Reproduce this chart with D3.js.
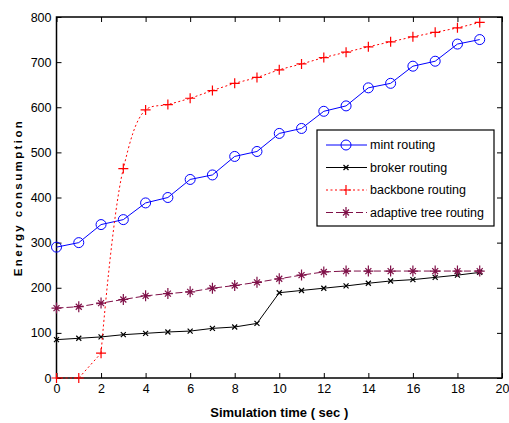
<!DOCTYPE html>
<html>
<head>
<meta charset="utf-8">
<script src="https://cdn.jsdelivr.net/npm/d3@7/dist/d3.min.js"></script>
<style>
  html, body { margin: 0; padding: 0; background: #fff; }
  svg text { font-family: "Liberation Sans", Arial, sans-serif; }
</style>
</head>
<body>
<div id="chart"></div>
<script>
// simulation time, seconds
const times = d3.range(0, 20);

const mintRouting = [290, 300, 340, 351, 388, 400, 440, 450, 491, 502, 542, 553, 591, 603, 643, 653, 691, 702, 740, 750];
const brokerRouting = [85, 88, 91, 96, 99, 102, 104, 110, 113, 121, 189, 194, 199, 204, 210, 215, 218, 223, 228, 234];
const backboneRouting = [0, 0, 55, 464, 594, 606, 620, 637, 653, 666, 683, 696, 710, 722, 734, 745, 756, 766, 776, 788];
const adaptiveTreeRouting = [155, 158, 166, 174, 182, 187, 191, 199, 205, 212, 220, 228, 235, 237, 237, 237, 237, 237, 237, 237];

const xTicks = d3.range(0, 21, 2);
const yTicks = d3.range(0, 801, 100);

// smoothFrom: index from which the line is drawn as a spline (null = straight segments)
const series = [
  { name: 'mint routing', values: mintRouting, color: '#0000ff', dash: null, marker: 'circle', smoothFrom: null },
  { name: 'broker routing', values: brokerRouting, color: '#000000', dash: null, marker: 'x', smoothFrom: null },
  { name: 'backbone routing', values: backboneRouting, color: '#ff0000', dash: '2,2.5', marker: 'plus', smoothFrom: 2 },
  { name: 'adaptive tree routing', values: adaptiveTreeRouting, color: '#7f1048', dash: '7,3', marker: 'star', smoothFrom: null }
];

const W = 509, H = 423;
const margin = { top: 17, right: 7, bottom: 45, left: 56.5 };
const width = W - margin.left - margin.right;
const height = H - margin.top - margin.bottom;

const svg = d3.select('#chart').append('svg')
  .attr('width', W)
  .attr('height', H);

const g = svg.append('g')
  .attr('transform', `translate(${margin.left},${margin.top})`);

const x = d3.scaleLinear().domain([0, 20]).range([0, width]);
const y = d3.scaleLinear().domain([0, 800]).range([height, 0]);

// axes with inward ticks on all four sides
const styleAxis = sel => {
  sel.select('.domain').remove();
  sel.selectAll('line').attr('stroke', '#000');
  sel.selectAll('text').attr('font-size', 12.5).attr('fill', '#000');
};

g.append('g').attr('transform', `translate(0,${height})`)
  .call(d3.axisBottom(x).tickValues(xTicks).tickSizeInner(-5).tickSizeOuter(0).tickPadding(6))
  .call(styleAxis);
g.append('g')
  .call(d3.axisLeft(y).tickValues(yTicks).tickSizeInner(-5).tickSizeOuter(0).tickPadding(5))
  .call(styleAxis);
g.append('g')
  .call(d3.axisTop(x).tickValues(xTicks).tickSizeInner(-5).tickSizeOuter(0).tickFormat(''))
  .call(styleAxis);
g.append('g').attr('transform', `translate(${width},0)`)
  .call(d3.axisRight(y).tickValues(yTicks).tickSizeInner(-5).tickSizeOuter(0).tickFormat(''))
  .call(styleAxis);

g.append('rect')
  .attr('width', width).attr('height', height)
  .attr('fill', 'none').attr('stroke', '#000').attr('stroke-width', 1.5);

// marker shapes
function drawMarker(sel, type, color) {
  if (type === 'circle') {
    sel.append('circle').attr('r', 5).attr('fill', 'none').attr('stroke', color).attr('stroke-width', 1);
  } else if (type === 'x') {
    sel.append('path').attr('d', 'M-2.5,-2.5L2.5,2.5M-2.5,2.5L2.5,-2.5')
      .attr('stroke', color).attr('stroke-width', 1.2);
  } else if (type === 'plus') {
    sel.append('path').attr('d', 'M-5,0L5,0M0,-5L0,5')
      .attr('stroke', color).attr('stroke-width', 1.2);
  } else if (type === 'star') {
    sel.append('path').attr('d', 'M-5,0L5,0M0,-5.5L0,5.5M-3,-3L3,3M-3,3L3,-3')
      .attr('stroke', color).attr('stroke-width', 1.2);
  }
}

const pts = values => values.map((v, i) => [x(times[i]), y(v)]);
const straight = d3.line();
const spline = d3.line().curve(d3.curveCatmullRom);

series.forEach(s => {
  const p = pts(s.values);
  const pieces = s.smoothFrom == null
    ? [{ d: p, gen: straight }]
    : [{ d: p.slice(0, s.smoothFrom + 1), gen: straight }, { d: p.slice(s.smoothFrom), gen: spline }];

  pieces.forEach(piece => {
    g.append('path')
      .attr('fill', 'none')
      .attr('stroke', s.color)
      .attr('stroke-width', 1)
      .attr('stroke-dasharray', s.dash)
      .attr('d', piece.gen(piece.d));
  });

  g.append('g').selectAll('g')
    .data(s.values)
    .join('g')
    .attr('transform', (d, i) => `translate(${x(times[i])},${y(d)})`)
    .each(function () { drawMarker(d3.select(this), s.marker, s.color); });
});

// legend
const legend = g.append('g').attr('transform', `translate(${317 - margin.left},${130 - margin.top})`);
legend.append('rect')
  .attr('width', 177).attr('height', 96)
  .attr('fill', '#fff').attr('stroke', '#000').attr('stroke-width', 1.2);

series.forEach((s, i) => {
  const row = legend.append('g').attr('transform', `translate(0,${15 + i * 22.5})`);
  row.append('line')
    .attr('x1', 9).attr('x2', 50)
    .attr('stroke', s.color).attr('stroke-width', 1)
    .attr('stroke-dasharray', s.dash);
  drawMarker(row.append('g').attr('transform', 'translate(29,0)'), s.marker, s.color);
  row.append('text')
    .attr('x', 53).attr('dy', '0.35em')
    .attr('font-size', 12.5)
    .text(s.name);
});

// axis titles
svg.append('text')
  .attr('x', margin.left + width / 2)
  .attr('y', 417)
  .attr('text-anchor', 'middle')
  .attr('font-size', 13)
  .attr('font-weight', 'bold')
  .text('Simulation time ( sec )');

svg.append('text')
  .attr('transform', `translate(22,${margin.top + height / 2}) rotate(-90)`)
  .attr('text-anchor', 'middle')
  .attr('font-size', 11.5)
  .attr('font-weight', 'bold')
  .attr('letter-spacing', 2.4)
  .text('Energy consumption');
</script>
</body>
</html>
